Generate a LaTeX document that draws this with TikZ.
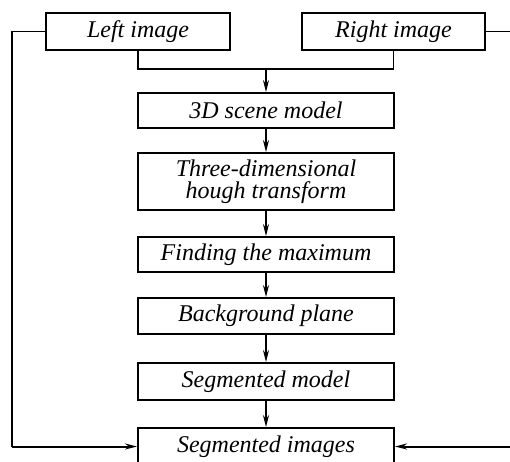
\documentclass[tikz,border=0pt]{standalone}
\usepackage{fontspec}
\setmainfont{Liberation Serif}
\usetikzlibrary{arrows.meta}
\tikzset{
  box/.style={draw, line width=2pt, minimum width=256pt, minimum height=35pt,
    inner sep=0pt, align=center, font=\fontsize{24}{22}\selectfont\itshape},
  conn/.style={line width=1.2pt},
  arr/.style={conn, -{Stealth[length=12pt,width=6pt]}},
  heavyarr/.style={line width=2pt, -{Stealth[length=12pt,width=6pt]}}
}
\begin{document}
\begin{tikzpicture}[x=1pt,y=-1pt]
\useasboundingbox (0,0) rectangle (510,461);
% input images
\node[box, minimum width=184pt, minimum height=37pt] (L) at (138,31.5) {Left image};
\node[box, minimum width=183pt, minimum height=37pt] (R) at (393.5,31.5) {Right image};
% processing chain
\node[box] (m3d) at (266,110.5) {3D scene model};
\node[box, minimum height=57pt] (hough) at (266,181.5) {Three-dimensional\\hough transform};
\node[box] (maxi) at (266,254.5) {Finding the maximum};
\node[box, minimum height=36pt] (bg) at (266,316) {Background plane};
\node[box, minimum height=37pt] (segm) at (266,381.5) {Segmented model};
\node[box, minimum height=37pt] (segi) at (266,446.5) {Segmented images};
% joints
\coordinate (join) at (266,69);
\coordinate (lc) at (12,446.5);
\coordinate (rc) at (513,446.5);
\coordinate (rt) at (513,31.5);
% connectors
\draw[conn] (L.south) |- (join) -| (R.south);
\draw[arr] (join) -- (m3d.north);
\draw[arr] (m3d) -- (hough);
\draw[arr] (hough) -- (maxi);
\draw[arr] (maxi) -- (bg);
\draw[arr] (bg) -- (segm);
\draw[arr] (segm) -- (segi);
\draw[conn] (L.west) -| (lc);
\draw[heavyarr] (lc) -- (segi.west);
\draw[conn] (R.east) -- (rt) -- (rc);
\draw[heavyarr] (rc) -- (segi.east);
\end{tikzpicture}
\end{document}
